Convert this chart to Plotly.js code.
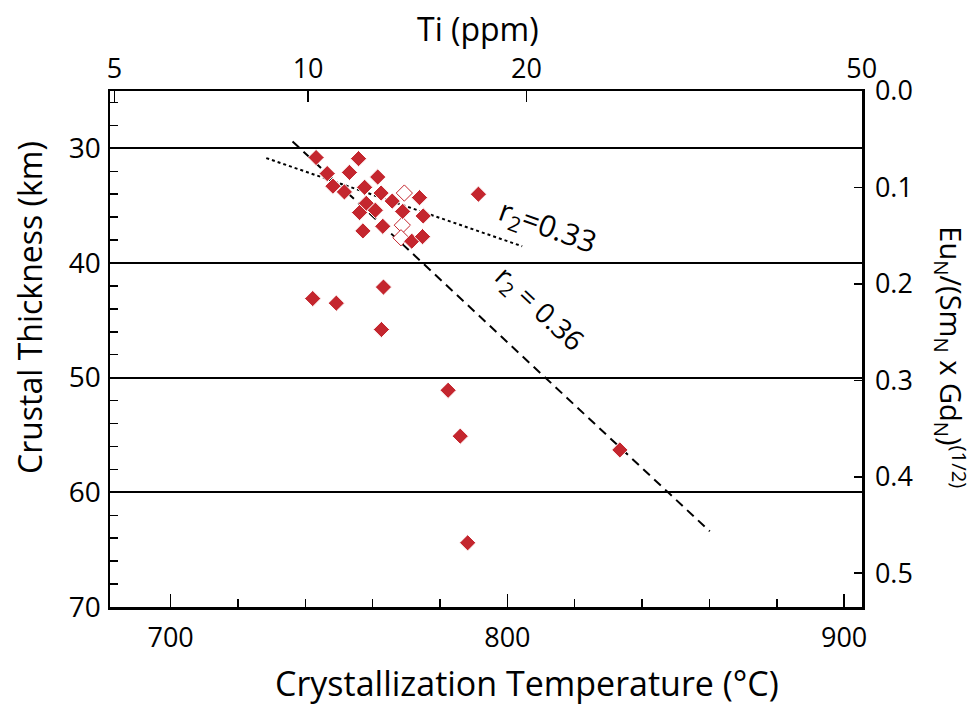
<!DOCTYPE html>
<html>
<head>
<meta charset="utf-8">
<script src="https://cdn.plot.ly/plotly-3.0.1.min.js"></script>
<style>
html,body{margin:0;padding:0;background:#fff;}
#chart{width:978px;height:707px;}
</style>
</head>
<body>
<div id="chart"></div>
<script>
// Crystallization temperature (°C) and crustal thickness (km) of samples
var tempC = [743.2, 755.8, 746.5, 753.1, 761.5, 748.2, 751.6, 757.6, 762.5, 765.8, 773.9, 791.4, 758.1, 756.1, 760.8, 768.9, 775.0, 757.1, 763.0, 771.6, 774.8, 742.2, 749.2, 763.2, 762.6, 782.4, 786.0, 833.4, 788.2];
var thickKm = [30.8, 30.9, 32.2, 32.1, 32.5, 33.3, 33.8, 33.4, 33.9, 34.6, 34.3, 34.0, 34.8, 35.6, 35.4, 35.5, 35.9, 37.2, 36.8, 38.1, 37.7, 43.1, 43.5, 42.1, 45.8, 51.1, 55.1, 56.3, 64.4];
// partly hidden samples (drawn underneath)
var hidTemp = [769.4, 768.8, 768.4];
var hidKm = [33.9, 36.7, 37.8];
// regression lines
var dotTemp = [728.4, 804.4];
var dotKm = [30.85, 38.54];
var dashTemp = [736.2, 860.1];
var dashKm = [29.4, 63.4];
// top axis: Ti (ppm) tick labels (Ti-in-zircon thermometer)
var tiTicks = [5, 10, 20, 50];
// right axis tick values
var euTicks = [0.0, 0.1, 0.2, 0.3, 0.4, 0.5];

var tiTempVals = tiTicks.map(function(t){ return 5080/(6.01 - Math.log10(t)) - 273.15; });

var FONT = 'Open Sans, Noto Sans, sans-serif';
var RED = '#c4262e';

var traces = [
  {x: dotTemp, y: dotKm, mode: 'lines', line: {color: '#000', width: 2, dash: '3px,3px'}, hoverinfo: 'skip', showlegend: false},
  {x: dashTemp, y: dashKm, mode: 'lines', line: {color: '#000', width: 2, dash: '9px,6px'}, hoverinfo: 'skip', showlegend: false},
  {x: hidTemp, y: hidKm, mode: 'markers', marker: {symbol: 'diamond', size: 12.5, color: '#fff', line: {color: RED, width: 1}}, showlegend: false},
  {x: tempC, y: thickKm, mode: 'markers', marker: {symbol: 'diamond', size: 12.5, color: RED, line: {color: '#fff', width: 1}}, showlegend: false},
  {x: [800], y: [0.2], xaxis: 'x2', yaxis: 'y2', mode: 'markers', marker: {opacity: 0}, hoverinfo: 'skip', showlegend: false}
];

var xr = [682, 905.3];
var layout = {
  width: 978, height: 707,
  margin: {l: 110, r: 116, t: 91, b: 100},
  paper_bgcolor: '#fff', plot_bgcolor: '#fff',
  font: {family: FONT, color: '#000', size: 27},
  showlegend: false,
  xaxis: {
    range: xr, tickmode: 'array', tickvals: [700, 800, 900],
    ticks: 'inside', ticklen: 13, tickwidth: 1.5, tickcolor: '#000',
    minor: {tickmode: 'linear', tick0: 700, dtick: 20, ticks: 'inside', ticklen: 8, tickwidth: 1.5, tickcolor: '#000', showgrid: false},
    showline: true, linecolor: '#000', linewidth: 2.5, showgrid: false, zeroline: false,
    tickfont: {size: 27, family: FONT}, ticklabelstandoff: 5
  },
  xaxis2: {
    range: xr, overlaying: 'x', side: 'top', anchor: 'y',
    tickmode: 'array', tickvals: tiTempVals, ticktext: tiTicks.map(String),
    ticks: 'inside', ticklen: 11, tickwidth: 1.5, tickcolor: '#000',
    showline: true, linecolor: '#000', linewidth: 2.5, showgrid: false, zeroline: false,
    tickfont: {size: 27, family: FONT}, ticklabelstandoff: 0
  },
  yaxis: {
    range: [70, 25], tickmode: 'linear', tick0: 0, dtick: 10,
    ticks: 'inside', ticklen: 13, tickwidth: 1.5, tickcolor: '#000',
    minor: {tickmode: 'linear', tick0: 0, dtick: 2, ticks: 'inside', ticklen: 8, tickwidth: 1.5, tickcolor: '#000', showgrid: false},
    showline: true, linecolor: '#000', linewidth: 2.5,
    showgrid: true, gridcolor: '#000', gridwidth: 2, zeroline: false,
    tickfont: {size: 28, family: FONT}, ticklabelstandoff: 1
  },
  yaxis2: {
    range: [0.535, 0], overlaying: 'y', side: 'right', anchor: 'x',
    tickmode: 'array', tickvals: euTicks, ticktext: euTicks.map(function(v){return v.toFixed(1);}),
    ticks: 'inside', ticklen: 8, tickwidth: 1.5, tickcolor: '#000',
    showline: true, linecolor: '#000', linewidth: 2.5, showgrid: false, zeroline: false,
    tickfont: {size: 27, family: FONT}, ticklabelstandoff: 5
  },
  annotations: [
    {text: 'Crystallization Temperature (°C)', xref: 'paper', yref: 'paper', x: 0.555, y: -0.147, xanchor: 'center', yanchor: 'middle', showarrow: false, font: {size: 34, family: FONT}},
    {text: 'Crustal Thickness (km)', xref: 'paper', yref: 'paper', x: -0.108, y: 0.581, xanchor: 'center', yanchor: 'middle', textangle: -90, showarrow: false, font: {size: 32, family: FONT}},
    {text: 'Ti (ppm)', xref: 'paper', yref: 'paper', x: 0.489, y: 1.122, xanchor: 'center', yanchor: 'middle', showarrow: false, font: {size: 32, family: FONT}},
    {text: 'Eu<sub>N</sub>/(Sm<sub>N</sub> x Gd<sub>N</sub>)<sup>(1/2)</sup>', xref: 'paper', yref: 'paper', x: 1.119, y: 0.483, xanchor: 'center', yanchor: 'middle', textangle: 90, showarrow: false, font: {size: 29, family: FONT}},
    {text: 'r<sub>2</sub>=0.33', xref: 'x', yref: 'y', x: 812.0, y: 36.9, xanchor: 'center', yanchor: 'middle', textangle: 20, showarrow: false, font: {size: 30, family: FONT}},
    {text: 'r<sub>2</sub> = 0.36', xref: 'x', yref: 'y', x: 809.4, y: 44.0, xanchor: 'center', yanchor: 'middle', textangle: 43, showarrow: false, font: {size: 28, family: FONT}}
  ]
};

Plotly.newPlot('chart', traces, layout, {staticPlot: true, displayModeBar: false});
</script>
</body>
</html>
